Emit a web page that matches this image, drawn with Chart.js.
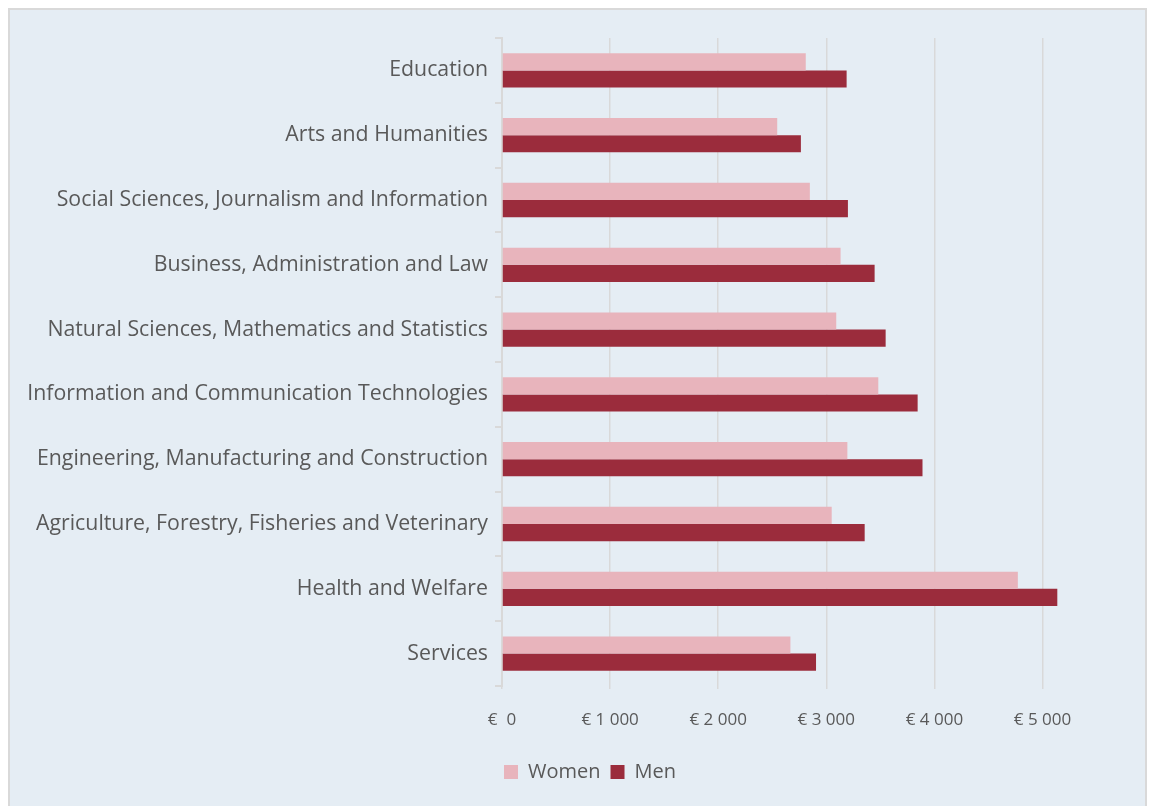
<!DOCTYPE html>
<html><head><meta charset="utf-8">
<script src="https://cdn.jsdelivr.net/npm/chart.js@4/dist/chart.umd.min.js"></script>
<style>html,body{margin:0;padding:0;background:#fff;overflow:hidden;width:1154px;height:806px;}#wrap{position:absolute;left:0;top:0;width:1180px;height:806px;}</style>
</head><body><div id="wrap"><canvas id="c" width="1180" height="806"></canvas></div>
<script>
const categories = [
  "Education",
  "Arts and Humanities",
  "Social Sciences, Journalism and Information",
  "Business, Administration and Law",
  "Natural Sciences, Mathematics and Statistics",
  "Information and Communication Technologies",
  "Engineering, Manufacturing and Construction",
  "Agriculture, Forestry, Fisheries and Veterinary",
  "Health and Welfare",
  "Services"
];
const women = [2810, 2546, 2848, 3132, 3092, 3481, 3195, 3050, 4772, 2668];
const men   = [3188, 2765, 3200, 3447, 3549, 3845, 3890, 3355, 5137, 2905];
const tickValues = [0, 1000, 2000, 3000, 4000, 5000];
const tickLabels = ["€  0", "€ 1 000", "€ 2 000", "€ 3 000", "€ 4 000", "€ 5 000"];

const boxPlugin = {
  id: 'box',
  beforeDraw(chart) {
    const ctx = chart.ctx;
    ctx.save();
    ctx.fillStyle = '#e5edf4';
    ctx.fillRect(9, 9, 1137, 797);
    ctx.strokeStyle = '#d9d9d9';
    ctx.lineWidth = 2;
    ctx.strokeRect(9, 9, 1137, 799);
    ctx.restore();
  }
};

const FONT = "'Open Sans', sans-serif";
new Chart(document.getElementById('c'), {
  type: 'bar',
  data: {
    labels: categories,
    datasets: [
      { label: 'Women', data: women, backgroundColor: '#e8b4bc', borderWidth: 0, categoryPercentage: 0.53, barPercentage: 1.0 },
      { label: 'Men', data: men, backgroundColor: '#9b2c3c', borderWidth: 0, categoryPercentage: 0.53, barPercentage: 1.0 }
    ]
  },
  options: {
    indexAxis: 'y',
    responsive: false,
    animation: false,
    layout: { padding: { left: 0, right: 0, top: 38, bottom: 14 } },
    plugins: {
      legend: {
        position: 'bottom',
        labels: { boxWidth: 14, boxHeight: 14, color: '#595959', font: { family: FONT, size: 20 }, padding: 10 }
      },
      tooltip: { enabled: false }
    },
    scales: {
      x: {
        min: 0, max: 6272,
        afterBuildTicks(scale) { scale.ticks = tickValues.map(v => ({ value: v })); },
        afterFit(scale) { scale.height = 66; },
        border: { display: false },
        grid: { color: '#d9d9d9', lineWidth: 1.5, drawTicks: true, tickLength: 3, tickColor: '#d9d9d9' },
        ticks: {
          color: '#595959', font: { family: FONT, size: 17 }, padding: 21,
          callback(v) { const i = tickValues.indexOf(v); return i >= 0 ? tickLabels[i] : ''; }
        }
      },
      y: {
        afterFit(scale) { scale.width = 502; },
        border: { display: true, color: '#d9d9d9', width: 2 },
        grid: { offset: true, drawOnChartArea: false, drawTicks: true, tickLength: 7, color: '#d9d9d9', lineWidth: 2 },
        ticks: { color: '#595959', font: { family: FONT, size: 21.3 }, padding: 7 }
      }
    }
  },
  plugins: [boxPlugin]
});
</script></body></html>
